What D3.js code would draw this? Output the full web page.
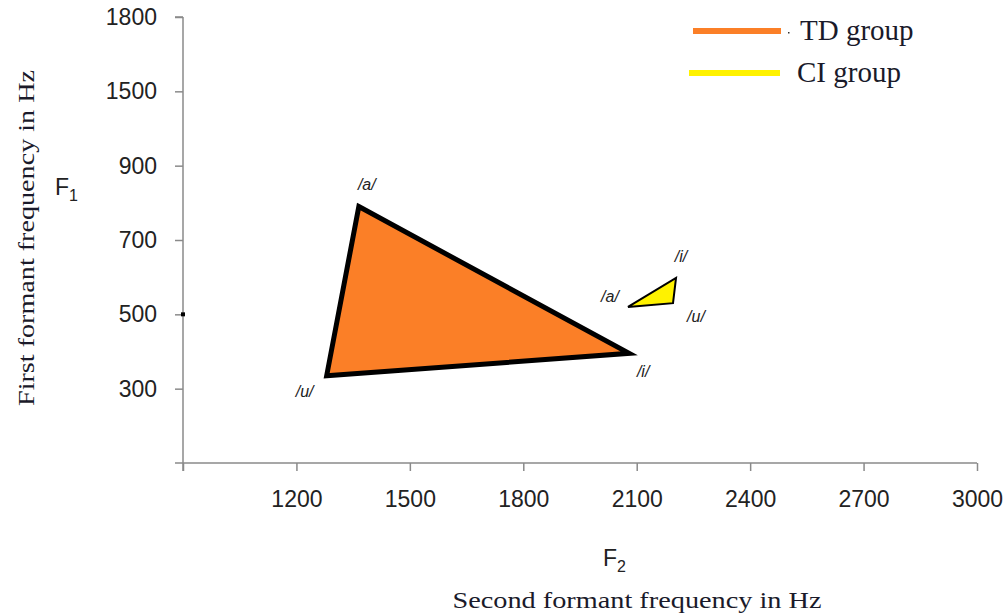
<!DOCTYPE html>
<html>
<head>
<meta charset="utf-8">
<script src="https://cdn.jsdelivr.net/npm/d3@7"></script>
<style>
  body { margin: 0; background: #fff; }
  .tick-label { font-family: "Liberation Sans", Arial, sans-serif; font-size: 23px; fill: #222; }
  .title { font-family: "Liberation Serif", "Times New Roman", serif; font-size: 23px; fill: #1a1a2a; }
  .fsym { font-family: "Liberation Sans", Arial, sans-serif; font-size: 23px; fill: #222; }
  .vowel { font-family: "Liberation Sans", Arial, sans-serif; font-size: 16px; font-style: italic; fill: #222; }
  .legend { font-family: "Liberation Serif", "Times New Roman", serif; font-size: 29px; fill: #1a1a2a; }
</style>
</head>
<body>
<div id="chart"></div>
<script>
// tick values / labels (the y labels in the source are not evenly valued)
const xTicks = [1200, 1500, 1800, 2100, 2400, 2700, 3000];
const yTicks = [300, 500, 700, 900, 1100, 1300];
const yTickLabels = ["300", "500", "700", "900", "1500", "1800"];

// vowel formants (F2, F1) per group
const vowels = ["/a/", "/i/", "/u/"];
const tdF2 = [1365, 2080, 1280];
const tdF1 = [790, 395, 335];
const ciF2 = [2077, 2204, 2196];
const ciF1 = [520, 598, 530];

const groups = ["TD group", "CI group"];

const config = {
    width: 1003,
    height: 614,
    axisLeft: 183, axisRight: 977,
    axisTop: 17, axisBottom: 463
};

const colors = { TD: "#fb7f27", CI: "#fff200", axis: "#8a8a8a" };

const svg = d3.select("#chart").append("svg")
    .attr("width", config.width)
    .attr("height", config.height);

const x = d3.scaleLinear().domain([900, 3000]).range([config.axisLeft, config.axisRight]);
const y = d3.scaleLinear().domain([100, 1300]).range([config.axisBottom, config.axisTop]);

// x axis
const xAxis = svg.append("g")
    .attr("transform", `translate(0,${config.axisBottom})`)
    .call(d3.axisBottom(x).tickValues([900].concat(xTicks)).tickSize(8).tickSizeOuter(0).tickFormat(d => d === 900 ? "" : d));
xAxis.select(".domain").attr("stroke", colors.axis).attr("stroke-width", 1.5).attr("d", `M${config.axisLeft - 8},0H${config.axisRight}`);
xAxis.selectAll(".tick line").attr("stroke", colors.axis).attr("stroke-width", 1.5);
xAxis.selectAll(".tick text").attr("class", "tick-label").attr("y", 28).attr("dy", "0.71em").attr("fill", null);

// y axis
const yAxis = svg.append("g")
    .attr("transform", `translate(${config.axisLeft},0)`)
    .call(d3.axisLeft(y).tickValues(yTicks).tickSize(8).tickSizeOuter(0)
        .tickFormat((d, i) => yTickLabels[i]));
yAxis.select(".domain").attr("stroke", colors.axis).attr("stroke-width", 1.5).attr("d", `M0,${config.axisTop}V${config.axisBottom + 8}`);
yAxis.selectAll(".tick line").attr("stroke", colors.axis).attr("stroke-width", 1.5);
yAxis.selectAll(".tick text").attr("class", "tick-label").attr("x", -26).attr("fill", null);
// top end tick
yAxis.append("line").attr("x1", -8).attr("x2", 0).attr("y1", config.axisTop).attr("y2", config.axisTop)
    .attr("stroke", colors.axis).attr("stroke-width", 1.5);

// small black mark on axis at 500
svg.append("rect")
    .attr("x", x(900) - 2).attr("y", y(500) - 2)
    .attr("width", 4).attr("height", 4).attr("fill", "#000");

// triangles
function drawGroup(f2, f1, fill, strokeW, offsets) {
    const pts = vowels.map((v, i) => [x(f2[i]), y(f1[i])]);
    svg.append("path")
        .attr("d", d3.line()(pts) + "Z")
        .attr("fill", fill)
        .attr("stroke", "#000")
        .attr("stroke-width", strokeW)
        .attr("stroke-linejoin", "miter");
    svg.selectAll(null).data(vowels).enter().append("text")
        .attr("class", "vowel")
        .attr("text-anchor", "middle")
        .attr("dominant-baseline", "central")
        .attr("x", (d, i) => pts[i][0] + offsets[i][0])
        .attr("y", (d, i) => pts[i][1] + offsets[i][1])
        .text(d => d);
}
drawGroup(tdF2, tdF1, colors.TD, 5, [[8, -22], [14, 18], [-22, 16]]);
drawGroup(ciF2, ciF1, colors.CI, 2, [[-18, -10], [5, -21], [23, 13]]);

// axis titles
svg.append("text").attr("class", "title")
    .attr("transform", "translate(34,238) rotate(-90)")
    .attr("text-anchor", "middle")
    .attr("textLength", 336).attr("lengthAdjust", "spacingAndGlyphs")
    .text("First formant frequency in Hz");
const f1 = svg.append("text").attr("class", "fsym").attr("x", 55).attr("y", 195).text("F");
f1.append("tspan").attr("dy", 6).attr("font-size", 16).text("1");

const f2 = svg.append("text").attr("class", "fsym").attr("x", 603).attr("y", 566).text("F");
f2.append("tspan").attr("dy", 6).attr("font-size", 16).text("2");
svg.append("text").attr("class", "title")
    .attr("x", 637).attr("y", 608)
    .attr("text-anchor", "middle")
    .attr("textLength", 369).attr("lengthAdjust", "spacingAndGlyphs")
    .text("Second formant frequency in Hz");

// legend
const legend = svg.append("g");
const legendRows = [
    { name: groups[0], color: colors.TD, x1: 693, x2: 781, y: 31, tx: 800 },
    { name: groups[1], color: colors.CI, x1: 689, x2: 780, y: 73, tx: 797 }
];
legendRows.forEach(r => {
    legend.append("line")
        .attr("x1", r.x1).attr("x2", r.x2).attr("y1", r.y).attr("y2", r.y)
        .attr("stroke", r.color).attr("stroke-width", 6);
    legend.append("text").attr("class", "legend")
        .attr("x", r.tx).attr("y", r.y + 9)
        .text(r.name);
});
legend.append("rect").attr("x", 788).attr("y", 32).attr("width", 1.5).attr("height", 1.5).attr("fill", "#333");
</script>
</body>
</html>
